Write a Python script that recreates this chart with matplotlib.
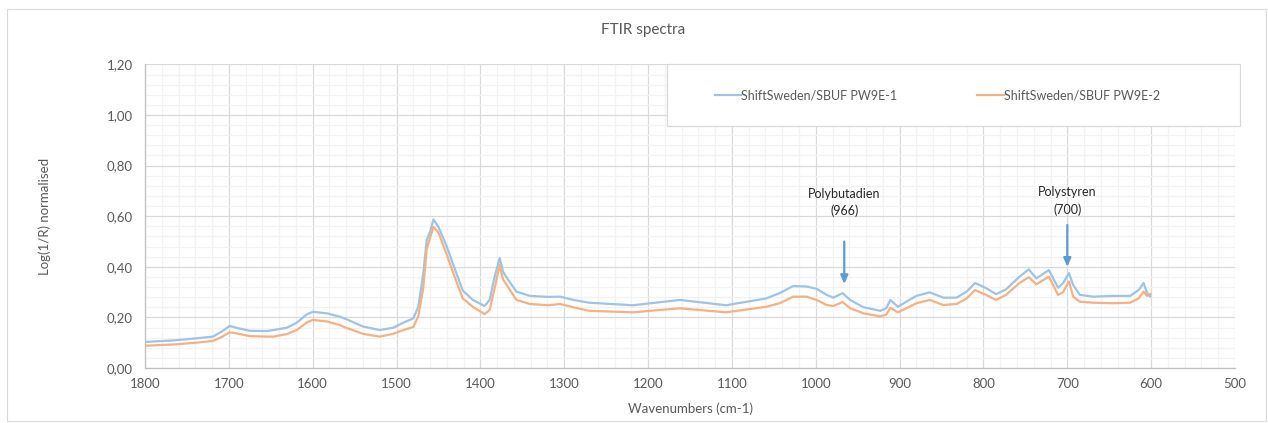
import matplotlib
matplotlib.use("Agg")
import matplotlib.pyplot as plt
from matplotlib.patches import Rectangle
from matplotlib.ticker import MultipleLocator, FuncFormatter

plt.rcParams['font.family'] = ['Lato', 'DejaVu Sans']

# Spectra: wavenumber (cm-1) and normalised log(1/R) for both samples
wavenumber = [1800, 1766, 1739, 1719, 1709, 1699, 1691, 1675, 1655, 1647,
              1631, 1619, 1607, 1600, 1583, 1568, 1560, 1540, 1520, 1504,
              1492, 1480, 1474, 1468, 1464, 1460, 1456, 1450, 1440, 1430,
              1421, 1409, 1395, 1389, 1383, 1377, 1373, 1367, 1357, 1341,
              1319, 1305, 1289, 1270, 1218, 1162, 1107, 1059, 1043, 1027,
              1011, 999, 987, 979, 968, 959, 943, 923, 916, 911,
              902, 892, 880, 864, 848, 832, 820, 810, 797, 785,
              773, 757, 746, 737, 722, 711, 705, 698, 693, 685,
              669, 645, 625, 615, 609, 605, 601]

pw9e_1 = [0.103, 0.109, 0.117, 0.124, 0.143, 0.166, 0.159, 0.147, 0.146, 0.150,
          0.159, 0.179, 0.212, 0.222, 0.216, 0.203, 0.193, 0.164, 0.150, 0.159,
          0.179, 0.196, 0.242, 0.375, 0.506, 0.538, 0.587, 0.558, 0.479, 0.387,
          0.306, 0.269, 0.245, 0.269, 0.361, 0.434, 0.381, 0.349, 0.302, 0.285,
          0.281, 0.282, 0.269, 0.258, 0.248, 0.269, 0.248, 0.275, 0.296, 0.324,
          0.322, 0.313, 0.289, 0.278, 0.296, 0.269, 0.240, 0.226, 0.236, 0.269,
          0.242, 0.262, 0.285, 0.299, 0.278, 0.278, 0.302, 0.336, 0.316, 0.292,
          0.311, 0.361, 0.390, 0.354, 0.387, 0.317, 0.336, 0.375, 0.328, 0.289,
          0.282, 0.285, 0.285, 0.308, 0.336, 0.298, 0.282]

pw9e_2 = [0.088, 0.093, 0.100, 0.107, 0.122, 0.141, 0.137, 0.126, 0.124, 0.124,
          0.134, 0.150, 0.180, 0.190, 0.184, 0.170, 0.159, 0.135, 0.124, 0.135,
          0.150, 0.162, 0.205, 0.320, 0.470, 0.515, 0.558, 0.535, 0.447, 0.354,
          0.275, 0.242, 0.213, 0.229, 0.315, 0.407, 0.350, 0.320, 0.269, 0.253,
          0.248, 0.253, 0.240, 0.226, 0.220, 0.236, 0.220, 0.242, 0.256, 0.282,
          0.282, 0.269, 0.249, 0.245, 0.261, 0.236, 0.216, 0.204, 0.211, 0.238,
          0.220, 0.236, 0.256, 0.269, 0.249, 0.253, 0.275, 0.308, 0.289, 0.269,
          0.289, 0.336, 0.359, 0.331, 0.361, 0.289, 0.300, 0.342, 0.282, 0.262,
          0.258, 0.256, 0.258, 0.275, 0.302, 0.285, 0.292]

series_names = ["ShiftSweden/SBUF PW9E-1", "ShiftSweden/SBUF PW9E-2"]

# Marked bands: label, wavenumber, arrow start / tip heights
band_labels = ["Polybutadien\n(966)", "Polystyren\n(700)"]
band_wavenumbers = [966, 700]
arrow_start = [0.50, 0.565]
arrow_tip = [0.332, 0.40]
label_y = [0.655, 0.66]

TEXT = "#595959"
BLUE = "#9DC3E6"
ORANGE = "#F4B183"
ARROW = "#5B9BD5"

W, H = 1268, 423
fig = plt.figure(figsize=(W / 100, H / 100), dpi=100)
fig.patch.set_facecolor("white")

# Outer chart border
fig.add_artist(Rectangle((7 / W, 1 - 421 / H), (1266 - 7) / W, (421 - 9) / H,
                         transform=fig.transFigure, fill=False,
                         edgecolor="#D9D9D9", linewidth=0.8))

ax = fig.add_axes([145 / W, (H - 368) / H, 1090 / W, 303.6 / H])

ax.plot(wavenumber, pw9e_1, color=BLUE, linewidth=1.6, label=series_names[0], zorder=3)
ax.plot(wavenumber, pw9e_2, color=ORANGE, linewidth=1.6, label=series_names[1], zorder=3)

ax.set_xlim(1800, 500)
ax.set_ylim(0, 1.2)

ax.xaxis.set_major_locator(MultipleLocator(100))
ax.xaxis.set_minor_locator(MultipleLocator(20))
ax.yaxis.set_major_locator(MultipleLocator(0.2))
ax.yaxis.set_minor_locator(MultipleLocator(0.04))
ax.yaxis.set_major_formatter(FuncFormatter(lambda v, p: f"{v:.2f}".replace(".", ",")))
ax.xaxis.set_major_formatter(FuncFormatter(lambda v, p: f"{v:.0f}"))

ax.grid(which="major", color="#D9D9D9", linewidth=0.9, zorder=0)
ax.grid(which="minor", color="#F2F2F2", linewidth=0.9, zorder=0)
ax.set_axisbelow(True)

for side in ["top", "right"]:
    ax.spines[side].set_visible(False)
for side in ["left", "bottom"]:
    ax.spines[side].set_color("#BFBFBF")
    ax.spines[side].set_linewidth(0.9)

ax.tick_params(which="both", length=0)
ax.tick_params(axis="y", pad=9, labelsize=9.5, labelcolor=TEXT)
ax.tick_params(axis="x", pad=7, labelsize=9.5, labelcolor=TEXT)

ax.set_xlabel("Wavenumbers (cm-1)", fontsize=9.5, color=TEXT, labelpad=9)
ax.set_ylabel("Log(1/R) normalised", fontsize=9.5, color=TEXT, labelpad=40)
fig.text(643 / W, 1 - 30 / H, "FTIR spectra", ha="center", va="center",
         fontsize=11, color=TEXT)

# Band annotations
for lab, wn, y0, y1, ly in zip(band_labels, band_wavenumbers, arrow_start, arrow_tip, label_y):
    ax.annotate("", xy=(wn, y1), xytext=(wn, y0),
                arrowprops=dict(arrowstyle="-|>,head_width=0.22,head_length=0.5",
                                color=ARROW, linewidth=1.6, shrinkA=0, shrinkB=0),
                zorder=5)
    ax.text(wn, ly, lab, ha="center", va="center", fontsize=9,
            color="#262626", linespacing=1.45, zorder=5)

# Legend box in the upper right of the plot area
ax.add_patch(Rectangle((0.479, 0.797), 0.526, 0.203, transform=ax.transAxes,
                       facecolor="white", edgecolor="#D9D9D9", linewidth=0.9,
                       zorder=6, clip_on=False))
leg = ax.legend(loc="center", bbox_to_anchor=(0.727, 0.898), ncol=2,
                frameon=False, fontsize=9, handlelength=2.1, handletextpad=0.0,
                columnspacing=6.4, labelcolor=TEXT)
leg.set_zorder(7)

fig.savefig("out.png", dpi=100, facecolor="white")
